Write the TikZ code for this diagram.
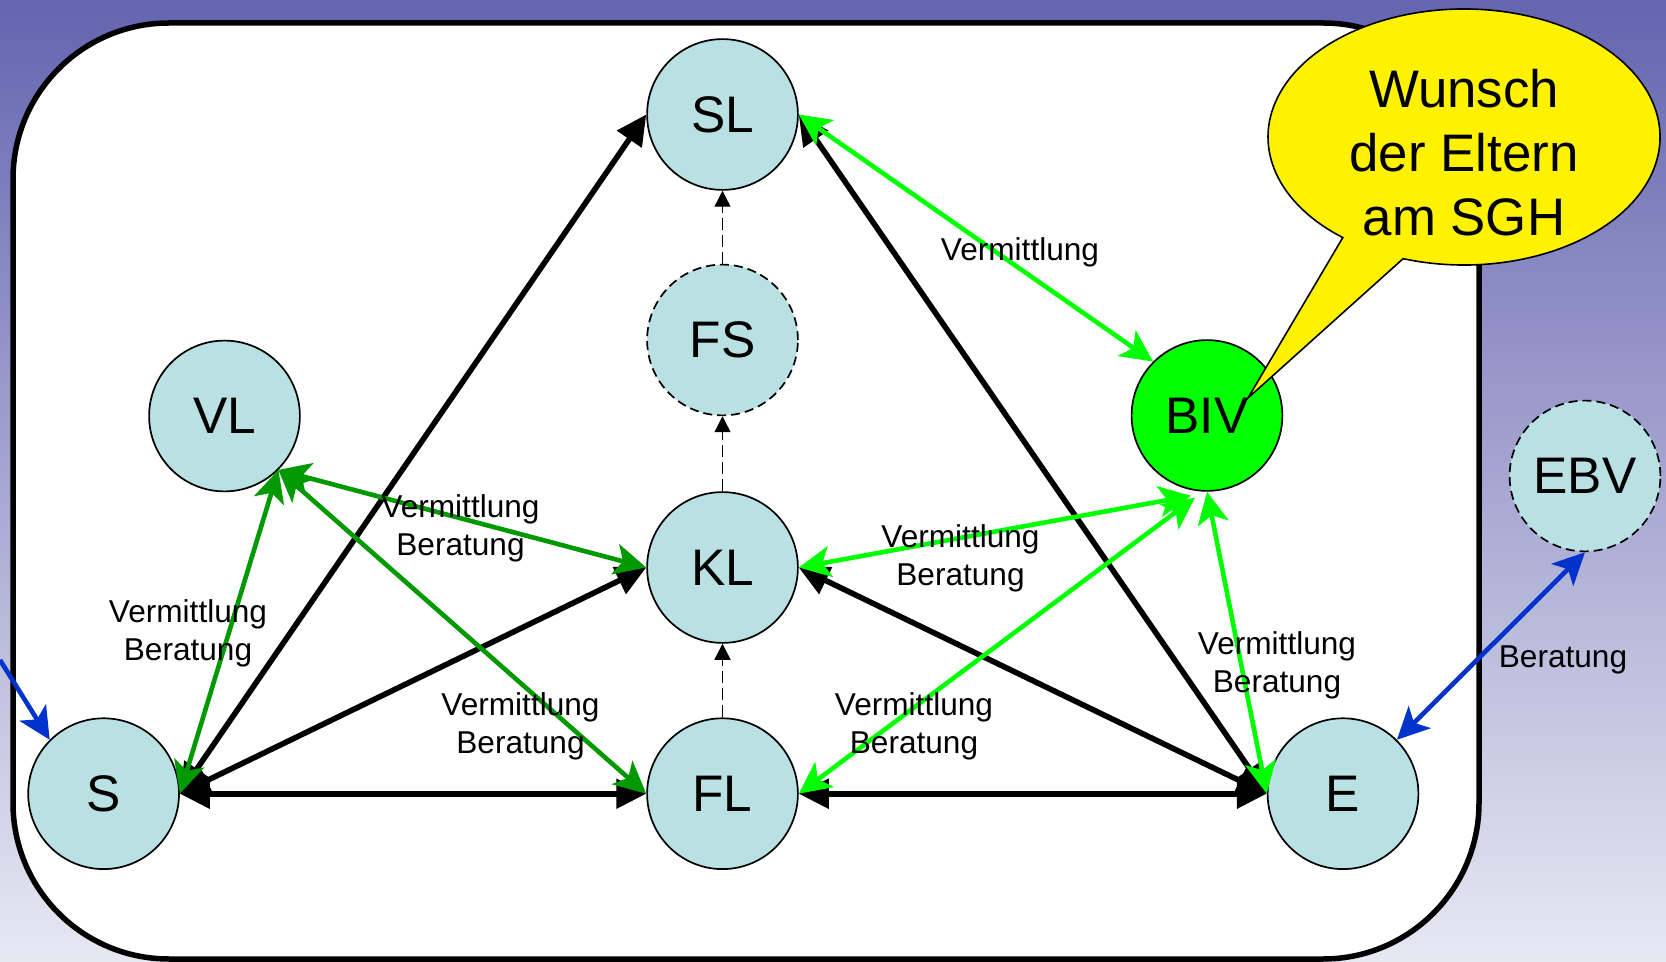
\documentclass[tikz,border=0pt]{standalone}
\usepackage{fontspec}
\setmainfont{Liberation Sans}
\usetikzlibrary{arrows.meta,calc}
\definecolor{bgtop}{RGB}{100,100,176}
\definecolor{bgbot}{RGB}{232,232,243}
\definecolor{nodefill}{RGB}{185,224,227}
\definecolor{dkgreen}{RGB}{0,153,0}
\definecolor{brgreen}{RGB}{0,255,0}
\definecolor{blueedge}{RGB}{0,51,204}
\begin{document}
\begin{tikzpicture}[x=0.5pt,y=-0.5pt,
  circ/.style={circle, draw=black, line width=0.85pt, fill=nodefill, minimum size=75.4pt, inner sep=0pt, font=\fontsize{25.7pt}{30pt}\selectfont},
  dcirc/.style={circ, dash pattern=on 4.5pt off 2.5pt},
  blk/.style={line width=2.8pt, draw=black, {Triangle[length=15pt,width=14.5pt]}-{Triangle[length=15pt,width=14.5pt]}},
  grn/.style={line width=2.3pt, draw=#1, {Stealth[length=16pt,width=15.5pt,inset=4pt]}-{Stealth[length=16pt,width=15.5pt,inset=4pt]}},
  blu/.style={line width=2.3pt, draw=blueedge, {Stealth[length=16pt,width=15.5pt,inset=4pt]}-{Stealth[length=16pt,width=15.5pt,inset=4pt]}},
  bluone/.style={line width=2.3pt, draw=blueedge, -{Stealth[length=16pt,width=15.5pt,inset=4pt]}},
  dsh/.style={line width=0.7pt, draw=black, dash pattern=on 6pt off 2.5pt, -{Triangle[length=8pt,width=8pt]}},
  lbl/.style={align=center, anchor=base, inner sep=0pt, font=\fontsize{15.8pt}{19pt}\selectfont},
  callout/.style={fill=yellow, draw=black, line width=0.8pt}
]
\useasboundingbox (0,0) rectangle (1666,962);
% background
\fill[top color=bgtop, bottom color=bgbot] (0,0) rectangle (1666,962);
% frame
\draw[line width=2.75pt, fill=white, rounded corners=78pt] (13,23) rectangle (1479,959);

% nodes
\node[circ]  (SL)  at (722.5,114.5) {SL};
\node[dcirc] (FS)  at (722.5,340) {FS};
\node[circ]  (VL)  at (224.5,416) {VL};
\node[circ]  (KL)  at (722.5,567.5) {KL};
\node[circ, fill=brgreen] (BIV) at (1207,415.5) {BIV};
\node[dcirc] (EBV) at (1585,476) {EBV};
\node[circ]  (S)   at (103.6,793.7) {S};
\node[circ]  (FL)  at (722.5,793.7) {FL};
\node[circ]  (E)   at (1343,793.7) {E};
\coordinate (bin) at (0,660);

% black edges
\draw[blk] (S.east) -- (SL.west);
\draw[blk] (S.east) -- (KL.west);
\draw[blk] (S.east) -- (FL.west);
\draw[blk] (SL.east) -- (E.west);
\draw[blk] (KL.east) -- (E.west);
\draw[blk] (FL.east) -- (E.west);

% dark green edges
\draw[grn=dkgreen] (S.east) -- (VL.south east);
\draw[grn=dkgreen] (VL.south east) -- (KL.west);
\draw[grn=dkgreen] (VL.south east) -- (FL.west);

% bright green edges
\draw[grn=brgreen] (SL.east) -- (BIV.north west);
\draw[grn=brgreen] ([xshift=-8pt,yshift=-2pt]BIV.south) -- (KL.east);
\draw[grn=brgreen] ([xshift=-6pt,yshift=-3pt]BIV.south) -- (FL.east);
\draw[grn=brgreen] (BIV.south) -- (E.west);

% blue edges
\draw[blu] (E.north east) -- (EBV.south);
\draw[bluone] (bin) -- (S.north west);

% dashed edges
\draw[dsh] (FL.north) -- (KL.south);
\draw[dsh] (KL.north) -- (FS.south);
\draw[dsh] (FS.north) -- (SL.south);

% callout
\coordinate (cc) at (1464,137);
\coordinate (tip) at (1248,398);
\filldraw[callout] ($(cc)+(108.1:196 and 128)$) arc[start angle=108.1, end angle=-231.8, x radius=196, y radius=128] -- (tip) -- cycle;
\node[align=center, anchor=base, inner sep=0pt, font=\fontsize{26.4pt}{32pt}\selectfont] (wunsch) at (1464,236) {Wunsch\\der Eltern\\am SGH};

% labels (anchor = baseline of last line)
\node[lbl] (l1) at (1020,261) {Vermittlung};
\node[lbl] (l2) at (460.5,556) {Vermittlung\\Beratung};
\node[lbl] (l3) at (188,661) {Vermittlung\\Beratung};
\node[lbl] (l4) at (520.5,753) {Vermittlung\\Beratung};
\node[lbl] (l5) at (960.5,586) {Vermittlung\\Beratung};
\node[lbl] (l6) at (914,753) {Vermittlung\\Beratung};
\node[lbl] (l7) at (1277,692) {Vermittlung\\Beratung};
\node[lbl] (l8) at (1563,668) {Beratung};
\end{tikzpicture}
\end{document}
